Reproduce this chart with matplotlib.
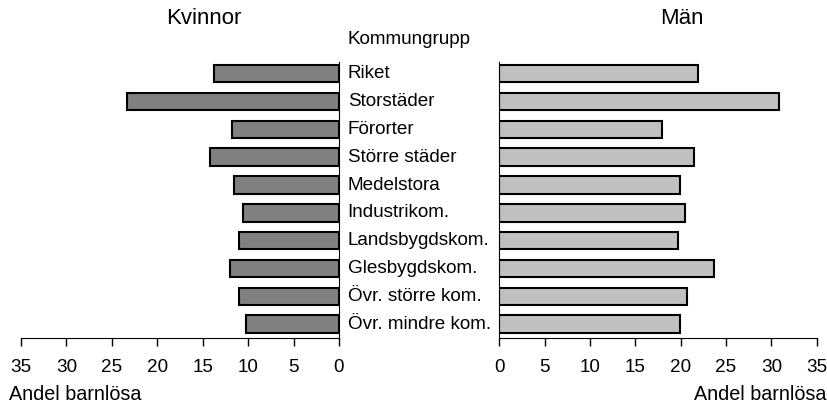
import matplotlib.pyplot as plt

plt.rcParams['font.family'] = ['Liberation Sans', 'DejaVu Sans']

# data
kommungrupp = ['Riket', 'Storstäder', 'Förorter', 'Större städer', 'Medelstora',
               'Industrikom.', 'Landsbygdskom.', 'Glesbygdskom.',
               'Övr. större kom.', 'Övr. mindre kom.']
kvinnor = [13.8, 23.3, 11.8, 14.2, 11.6, 10.6, 11.0, 12.0, 11.0, 10.2]
man = [21.9, 30.8, 17.9, 21.5, 19.9, 20.5, 19.7, 23.7, 20.7, 19.9]
ticks = [0, 5, 10, 15, 20, 25, 30, 35]

fs = 13.6
fig = plt.figure(figsize=(8.28, 4.05), dpi=100)
ax_k = fig.add_axes([21 / 828, 0.165, 318 / 828, 0.682])
ax_m = fig.add_axes([499.3 / 828, 0.165, 317.4 / 828, 0.682])

ys = range(len(kommungrupp))
ax_k.barh(ys, kvinnor, height=0.63, color='#808080', edgecolor='black', linewidth=1.5)
ax_m.barh(ys, man, height=0.63, color='#c0c0c0', edgecolor='black', linewidth=1.5)

for ax in (ax_k, ax_m):
    ax.set_ylim(9.5, -0.42)
    ax.set_xlim(0, 35)
    ax.set_xticks(ticks)
    ax.set_xticklabels([str(t) for t in ticks], fontsize=fs)
    ax.set_yticks([])
    ax.spines['top'].set_visible(False)
    ax.tick_params(axis='x', direction='out', length=6, width=1, pad=9)

ax_k.invert_xaxis()
ax_k.spines['left'].set_visible(False)
ax_m.spines['right'].set_visible(False)

for i, name in enumerate(kommungrupp):
    ax_k.text(-0.95, i, name, fontsize=fs, va='center', ha='left')

fig.text(204 / 828, 1 - 18 / 405, 'Kvinnor', fontsize=16, ha='center', va='center')
fig.text(682 / 828, 1 - 18 / 405, 'Män', fontsize=16, ha='center', va='center')
fig.text(348 / 828, 1 - 40 / 405, 'Kommungrupp', fontsize=fs, ha='left', va='center')
fig.text(9 / 828, 1 - 395 / 405, 'Andel barnlösa', fontsize=14.2, ha='left', va='center')
fig.text(826 / 828, 1 - 395 / 405, 'Andel barnlösa', fontsize=14.2, ha='right', va='center')

fig.savefig('out.png', dpi=100)
